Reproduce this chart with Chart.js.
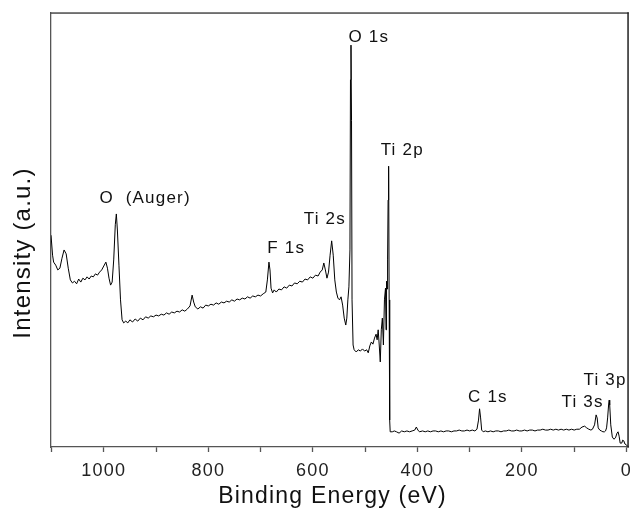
<!DOCTYPE html>
<html>
<head>
<meta charset="utf-8">
<script src="https://cdn.jsdelivr.net/npm/chart.js@4"></script>
<style>
html, body { margin: 0; padding: 0; background: #fff; }
#wrap { width: 630px; height: 514px; position: relative; }
</style>
</head>
<body>
<div id="wrap"><canvas id="xpsCanvas"></canvas></div>
<script>
// XPS survey spectrum, binding energy (eV) vs intensity (arbitrary units)
var bindingEnergy = [
  1101, 1098, 1096, 1092, 1088, 1084, 1080, 1076, 1072, 1068, 1064, 1060, 1056, 1052, 1048, 1044,
  1040, 1036, 1032, 1028, 1024, 1020, 1016, 1012, 1008, 1004, 1000, 996, 993, 990, 987, 984,
  981, 978, 976, 974, 971, 968, 965, 962, 958, 954, 950, 945, 940, 935, 930, 925,
  920, 915, 910, 905, 900, 895, 890, 885, 880, 875, 870, 865, 860, 855, 850, 845,
  840, 835, 831, 828, 825, 820, 815, 810, 805, 800, 795, 790, 785, 780, 775, 770,
  765, 760, 755, 750, 745, 740, 735, 730, 725, 720, 715, 710, 705, 700, 695, 690,
  687, 684, 682, 680, 677, 674, 670, 665, 660, 655, 650, 645, 640, 635, 630, 625,
  620, 615, 610, 605, 600, 595, 590, 586, 582, 579, 576, 573, 570, 567, 564, 561,
  558, 555, 552, 549, 546, 543, 540, 537, 535, 533, 531, 529, 528, 527, 526, 525,
  523, 521, 517, 513, 509, 505, 501, 497, 494, 491, 488, 485, 482, 479, 477, 475,
  473, 471, 469, 467, 465, 463, 461, 460, 459, 458, 457, 456, 455, 454, 453, 452,
  448, 444, 440, 435, 430, 425, 420, 415, 410, 405, 402, 399, 396, 390, 385, 380,
  375, 370, 365, 360, 355, 350, 345, 340, 335, 330, 325, 320, 315, 310, 305, 300,
  295, 290, 286, 283, 281, 279, 277, 274, 270, 265, 260, 255, 250, 245, 240, 235,
  230, 225, 220, 215, 210, 205, 200, 195, 190, 185, 180, 175, 170, 165, 160, 155,
  150, 145, 140, 135, 130, 125, 120, 115, 110, 105, 100, 95, 90, 85, 80, 76,
  72, 68, 65, 61, 58, 56, 54, 51, 48, 45, 42, 40, 38, 36, 34, 33,
  32, 30, 27, 24, 21, 18, 16, 14, 12, 9, 7, 5, 3, 0, -2
];
var intensity = [
  48.8, 44.2, 42.6, 41.9, 40.8, 41.2, 43.5, 45.4, 44.5, 41.2, 38.5, 37.8, 38.2, 37.6, 38.7, 38.0,
  38.9, 38.5, 39.2, 38.7, 39.4, 39.2, 39.9, 39.6, 40.3, 40.8, 41.7, 42.6, 41.2, 38.9, 37.3, 38.0,
  43.1, 51.2, 53.7, 50.0, 41.9, 33.9, 29.3, 28.6, 29.0, 28.6, 29.3, 28.8, 29.5, 29.0, 29.7, 29.3,
  30.0, 29.7, 30.2, 30.0, 30.4, 30.2, 30.6, 30.4, 30.9, 30.6, 31.1, 30.9, 31.3, 31.1, 31.6, 31.3,
  31.8, 32.5, 35.0, 33.4, 32.3, 31.8, 32.3, 32.0, 32.7, 32.5, 32.9, 32.7, 33.2, 32.9, 33.4, 33.2,
  33.6, 33.4, 33.9, 33.6, 34.1, 33.9, 34.3, 34.1, 34.6, 34.3, 34.8, 34.6, 35.0, 34.8, 35.3, 35.7,
  38.5, 42.6, 40.8, 36.6, 35.5, 36.2, 35.7, 36.4, 36.2, 36.9, 36.6, 37.3, 37.1, 37.8, 37.6, 38.2,
  38.0, 38.7, 38.5, 39.2, 38.9, 39.6, 39.4, 40.3, 40.8, 42.4, 40.8, 38.9, 40.3, 44.2, 47.5, 44.2,
  38.5, 35.7, 34.3, 33.9, 34.6, 32.7, 29.7, 28.1, 29.7, 33.9, 36.9, 45.4, 84.6, 92.6, 75.3, 33.9,
  23.5, 22.4, 21.9, 22.4, 22.1, 22.6, 22.1, 22.4, 21.7, 23.3, 24.2, 23.7, 25.1, 26.0, 24.7, 27.0,
  23.5, 19.6, 27.0, 29.7, 23.5, 33.9, 36.6, 27.0, 38.2, 36.4, 43.1, 56.9, 64.7, 33.9, 6.2, 3.5,
  3.5, 3.7, 3.5, 3.2, 3.7, 3.5, 3.7, 3.5, 3.7, 3.9, 4.6, 3.9, 3.5, 3.7, 3.5, 3.7,
  3.5, 3.7, 3.7, 3.5, 3.7, 3.5, 3.7, 3.7, 3.5, 3.7, 3.7, 3.9, 3.7, 3.7, 3.9, 3.7,
  3.9, 3.7, 4.1, 6.2, 8.8, 6.7, 3.9, 3.5, 3.7, 3.5, 3.7, 3.5, 3.7, 3.7, 3.5, 3.7,
  3.7, 3.9, 3.7, 3.7, 3.9, 3.7, 3.7, 3.9, 3.7, 3.9, 3.9, 3.7, 3.9, 3.9, 4.1, 3.9,
  3.9, 4.1, 3.9, 4.1, 3.9, 4.1, 3.9, 4.1, 3.9, 4.1, 3.9, 4.1, 4.1, 4.6, 4.8, 4.4,
  4.1, 3.9, 4.1, 5.1, 7.4, 6.7, 4.4, 3.9, 3.7, 3.5, 3.5, 3.7, 4.4, 6.7, 9.9, 10.8,
  9.7, 5.1, 2.3, 1.8, 2.1, 3.2, 3.5, 2.5, 0.9, 0.9, 1.6, 1.4, 0.7, 0.5, 0.2
];
var xTicks = [0, 100, 200, 300, 400, 500, 600, 700, 800, 900, 1000, 1100];

// peak labels, anchored in data units
var peakNames = ['O  (Auger)', 'F 1s', 'Ti 2s', 'O 1s', 'Ti 2p', 'C 1s', 'Ti 3s', 'Ti 3p'];
var peakEnergy = [921, 651, 577, 493, 429, 265, 84, 41];
var peakIntensity = [57.4, 45.7, 52.5, 94.4, 68.4, 11.4, 10.4, 15.3];

var fontFamily = '"Liberation Sans", Arial, sans-serif';

var labelPlugin = {
  id: 'peakLabels',
  beforeDraw: function(chart) {
    chart.ctx.letterSpacing = '1.2px';
  },
  afterDraw: function(chart) {
    var ctx = chart.ctx, a = chart.chartArea;
    var xs = chart.scales.x, ys = chart.scales.y;
    ctx.save();
    // top and right sides of the frame
    ctx.fillStyle = '#4a4a4a';
    ctx.fillRect(a.left - 0.7, a.top - 0.7, a.right - a.left + 1.4, 1.5);
    ctx.fillStyle = '#222';
    ctx.fillRect(a.right - 0.7, a.top - 0.7, 1.5, a.bottom - a.top + 1.4);

    ctx.fillStyle = '#111';
    ctx.textAlign = 'center';
    ctx.textBaseline = 'middle';
    ctx.font = '17px ' + fontFamily;
    peakNames.forEach(function(name, i) {
      ctx.fillText(name, xs.getPixelForValue(peakEnergy[i]), ys.getPixelForValue(peakIntensity[i]));
    });

    // axis titles
    ctx.font = '23px ' + fontFamily;
    ctx.fillText('Binding Energy (eV)', (a.left + a.right) / 2 - 7, a.bottom + 50);
    ctx.translate(23, (a.top + a.bottom) / 2 + 23);
    ctx.rotate(-Math.PI / 2);
    ctx.font = '24px ' + fontFamily;
    ctx.fillText('Intensity (a.u.)', 0, 0);
    ctx.restore();
  }
};

var ctx = document.getElementById('xpsCanvas').getContext('2d');

new Chart(ctx, {
  type: 'line',
  data: {
    datasets: [{
      data: bindingEnergy.map(function(be, i) { return { x: be, y: intensity[i] }; }),
      borderColor: '#000',
      borderWidth: 1,
      pointRadius: 0,
      tension: 0,
      fill: false
    }]
  },
  options: {
    responsive: true,
    maintainAspectRatio: false,
    animation: false,
    layout: { padding: { top: 13, right: 2, left: 0, bottom: 0 } },
    plugins: {
      legend: { display: false },
      tooltip: { enabled: false }
    },
    scales: {
      x: {
        type: 'linear',
        reverse: true,
        min: -3,
        max: 1101,
        afterBuildTicks: function(scale) {
          scale.ticks = xTicks.map(function(v) { return { value: v }; });
        },
        afterFit: function(scale) { scale.height = 67; },
        ticks: {
          autoSkip: false,
          maxRotation: 0,
          padding: 8,
          color: '#222',
          font: { family: fontFamily, size: 18 },
          callback: function(v) { return v % 200 === 0 ? String(v) : ''; }
        },
        grid: { drawOnChartArea: false, drawTicks: true, tickLength: 5, tickColor: '#555', tickWidth: 1.3 },
        border: { display: true, color: '#555', width: 1.3 }
      },
      y: {
        min: 0,
        max: 100,
        afterFit: function(scale) { scale.width = 51; },
        ticks: { display: false },
        grid: { drawOnChartArea: false, drawTicks: false },
        border: { display: true, color: '#555', width: 1.3 }
      }
    }
  },
  plugins: [labelPlugin]
});
</script>
</body>
</html>
